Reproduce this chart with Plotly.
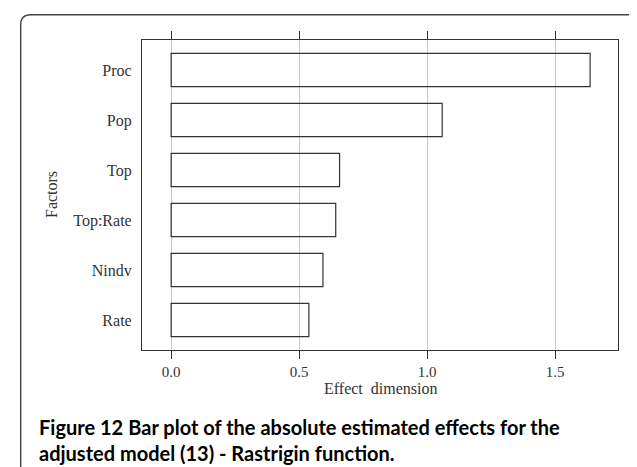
import plotly.graph_objects as go

factors = ["Proc", "Pop", "Top", "Top:Rate", "Nindv", "Rate"]
effects = [1.637, 1.059, 0.658, 0.643, 0.593, 0.538]
x_ticks = [0.0, 0.5, 1.0, 1.5]
x_tick_labels = ["0.0", "0.5", "1.0", "1.5"]

W, H = 637, 467
L, R, T, B = 134, 27, 32, 125
PW, PH = W - L - R, H - T - B


def px(x):
    return (x - L) / PW


def py(y):
    return 1 - (y - T) / PH


DARK = "#333333"
SERIF = "Liberation Serif"

fig = go.Figure()
fig.add_trace(go.Bar(
    x=effects, y=factors, orientation="h", width=0.667,
    marker=dict(color="rgba(0,0,0,0)", line=dict(color=DARK, width=1.2)),
    hoverinfo="x+y",
))

# rounded frame around the figure and caption
x0, x1, y0, y1, r = 12.7, 635.0, 6.7, 480.0, 10
path = (f"M {px(x0)} {py(y1)} L {px(x0)} {py(y0 + r)} "
        f"Q {px(x0)} {py(y0)} {px(x0 + r)} {py(y0)} "
        f"L {px(x1 - r)} {py(y0)} Q {px(x1)} {py(y0)} {px(x1)} {py(y0 + r)} "
        f"L {px(x1)} {py(y1)}")

fig.update_layout(
    width=W, height=H,
    margin=dict(l=L, r=R, t=T, b=B, pad=0),
    paper_bgcolor="white", plot_bgcolor="white",
    showlegend=False,
    font=dict(family=SERIF, size=15, color=DARK),
    xaxis=dict(
        range=[-0.114, 1.746], tickvals=x_ticks, ticktext=x_tick_labels,
        showgrid=True, gridcolor="#c8c8c8", gridwidth=1, zeroline=False,
        showline=True, linecolor=DARK, linewidth=1.2, mirror="ticks",
        ticks="outside", ticklen=8, tickcolor=DARK, tickwidth=1,
        tickfont=dict(family=SERIF, size=15, color=DARK),
    ),
    yaxis=dict(
        type="category", categoryorder="array", categoryarray=factors,
        range=[5.6, -0.6], showgrid=False, zeroline=False,
        showline=True, linecolor=DARK, linewidth=1.2, mirror=True,
        ticks="", ticklabelstandoff=6,
        tickfont=dict(family=SERIF, size=16, color=DARK),
    ),
    shapes=[dict(type="path", xref="paper", yref="paper", path=path,
                 line=dict(color="#444444", width=1.4), layer="above")],
    annotations=[
        dict(text="Effect  dimension", xref="paper", yref="paper",
             x=px(372.5), y=py(380), xanchor="center", yanchor="middle",
             showarrow=False, font=dict(family=SERIF, size=16, color=DARK)),
        dict(text="Factors", xref="paper", yref="paper", textangle=-90,
             x=px(43), y=py(187), xanchor="center", yanchor="middle",
             showarrow=False, font=dict(family=SERIF, size=16, color=DARK)),
        dict(text="<b>Figure 12</b> <b>Bar plot of the absolute estimated effects for the</b><br>"
                  "<b>adjusted model (13) - Rastrigin function.</b>",
             xref="paper", yref="paper", x=px(29), y=py(432),
             xanchor="left", yanchor="middle", align="left", showarrow=False,
             font=dict(family="Lato", size=20, color="black")),
    ],
)

fig.write_html("out.html")
